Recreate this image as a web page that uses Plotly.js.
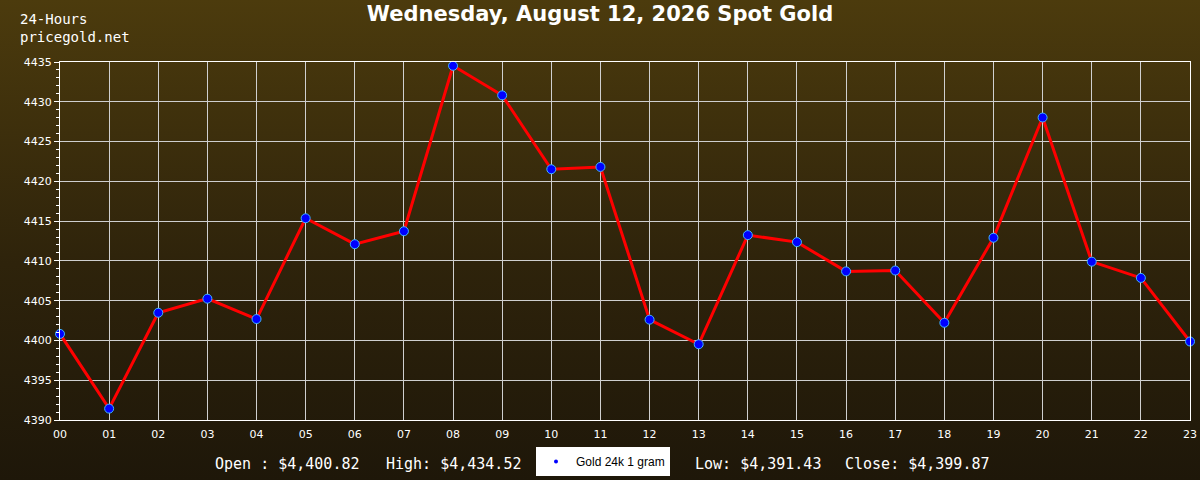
<!DOCTYPE html>
<html>
<head>
<meta charset="utf-8">
<script src="https://cdn.plot.ly/plotly-3.0.1.min.js"></script>
<style>
  html, body { margin: 0; padding: 0; }
  #chart { width: 1200px; height: 480px; background: linear-gradient(to bottom, #4c3b0d 0%, #2e230b 55%, #1e1709 100%); }
</style>
</head>
<body>
<div id="chart"></div>
<script>
const hours = ["00","01","02","03","04","05","06","07","08","09","10","11","12","13","14","15","16","17","18","19","20","21","22","23"];
const prices = [4400.82, 4391.43, 4403.48, 4405.25, 4402.69, 4415.36, 4412.10, 4413.73, 4434.52, 4430.81, 4421.52, 4421.81, 4402.61, 4399.52, 4413.24, 4412.36, 4408.68, 4408.79, 4402.22, 4412.91, 4428.02, 4409.90, 4407.86, 4399.87];
const seriesName = "Gold 24k 1 gram";
const titleText = "Wednesday, August 12, 2026 Spot Gold";
const headerLines = ["24-Hours", "pricegold.net"];
const statLabels = ["Open : $4,400.82", "High: $4,434.52", "Low: $4,391.43", "Close: $4,399.87"];
const yMin = 4390, yMax = 4435;

const W = 1200, H = 480;
const mL = 60, mR = 10, mT = 62, mB = 60;
const pw = W - mL - mR, ph = H - mT - mB;
const px = x => (x - mL) / pw;
const py = y => (H - mB - y) / ph;

const statX = [213, 384, 693, 843];

const traces = [
  {
    x: hours, y: prices, name: seriesName, type: 'scatter', mode: 'markers',
    marker: { color: '#0000ff', size: 4 }, showlegend: true, cliponaxis: false,
    hoverinfo: 'skip'
  },
  {
    x: hours, y: prices, name: seriesName, type: 'scatter', mode: 'lines+markers',
    line: { color: '#ff0000', width: 3 },
    marker: { color: '#0000ff', size: 9, line: { color: '#3fb4ff', width: 1 } },
    showlegend: false, cliponaxis: false
  }
];

const annotations = [
  {
    text: headerLines.join('<br>'), xref: 'paper', yref: 'paper',
    x: px(18), y: py(9), xanchor: 'left', yanchor: 'top', align: 'left',
    showarrow: false, font: { family: 'DejaVu Sans Mono', size: 14, color: '#ffffff' }
  }
];
statLabels.forEach((t, i) => annotations.push({
  text: t, xref: 'paper', yref: 'paper', x: px(statX[i]), y: py(464),
  xanchor: 'left', yanchor: 'middle', showarrow: false,
  font: { family: 'DejaVu Sans Mono', size: 15, color: '#ffffff' }
}));

const layout = {
  width: W, height: H,
  margin: { l: mL, r: mR, t: mT, b: mB, pad: 0, autoexpand: false },
  paper_bgcolor: 'rgba(0,0,0,0)', plot_bgcolor: 'rgba(0,0,0,0)',
  title: {
    text: '<b>' + titleText + '</b>', x: 0.5, xref: 'container', xanchor: 'center',
    y: 1 - 14 / H, yref: 'container', yanchor: 'middle',
    font: { family: 'DejaVu Sans', size: 21, color: '#ffffff' }
  },
  xaxis: {
    type: 'category', range: [0, 23], showgrid: true, gridcolor: '#cfcfcf', gridwidth: 1,
    showline: true, linecolor: '#ffffff', linewidth: 1, mirror: true,
    ticks: '', ticklabelstandoff: 4,
    tickfont: { family: 'DejaVu Sans', size: 11, color: '#ffffff' }, zeroline: false
  },
  yaxis: {
    range: [yMin, yMax], dtick: 5, tick0: 4390, showgrid: true, gridcolor: '#cfcfcf', gridwidth: 1,
    showline: true, linecolor: '#ffffff', linewidth: 1, mirror: true,
    ticks: 'outside', ticklen: 5, tickcolor: '#ffffff', tickwidth: 1,
    minor: { dtick: 1, ticks: 'outside', ticklen: 3, tickcolor: '#ffffff', showgrid: false },
    tickfont: { family: 'DejaVu Sans', size: 11, color: '#ffffff' }, zeroline: false
  },
  showlegend: true,
  legend: {
    xref: 'container', yref: 'container',
    x: 536 / W, y: 1 - 447 / H, xanchor: 'left', yanchor: 'top', orientation: 'h',
    bgcolor: '#ffffff', borderwidth: 0, itemwidth: 30,
    font: { family: 'Liberation Sans', size: 12, color: '#000000' }
  },
  annotations: annotations
};

Plotly.newPlot('chart', traces, layout, { displayModeBar: false, staticPlot: true });
</script>
</body>
</html>
